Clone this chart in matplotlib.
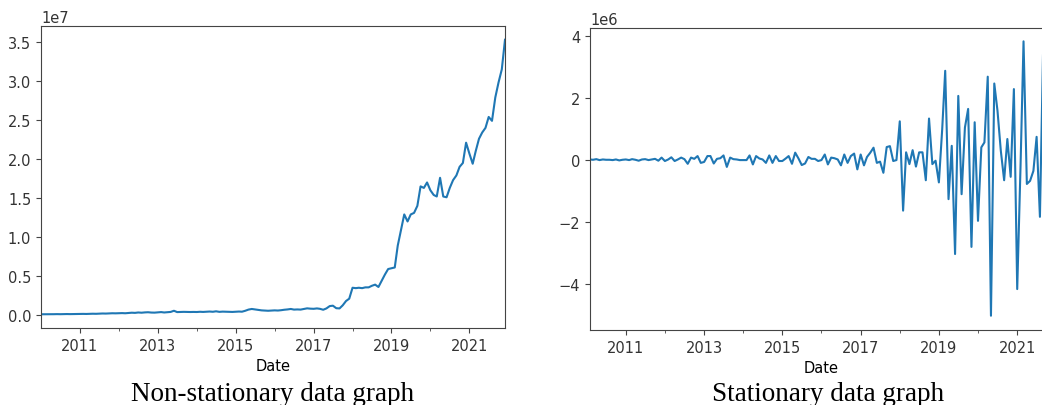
import matplotlib
matplotlib.use("Agg")
import matplotlib.pyplot as plt
import pandas as pd
import numpy as np

# monthly values, in millions, Jan 2010 .. Dec 2021
level = [
    0.10, 0.10, 0.11, 0.10, 0.11, 0.12, 0.11, 0.12, 0.13, 0.12, 0.13, 0.14,
    0.14, 0.15, 0.14, 0.16, 0.17, 0.16, 0.18, 0.20, 0.19, 0.21, 0.23, 0.22,
    0.24, 0.25, 0.23, 0.27, 0.30, 0.28, 0.33, 0.30, 0.34, 0.36, 0.32, 0.31,
    0.35, 0.38, 0.33, 0.36, 0.40, 0.55, 0.38, 0.40, 0.41, 0.40, 0.39, 0.40,
    0.39, 0.42, 0.40, 0.43, 0.45, 0.42, 0.48, 0.41, 0.44, 0.43, 0.41, 0.40,
    0.42, 0.45, 0.43, 0.55, 0.70, 0.78, 0.72, 0.65, 0.60, 0.58, 0.55, 0.57,
    0.60, 0.58, 0.62, 0.68, 0.72, 0.78, 0.70, 0.72, 0.70, 0.78, 0.86, 0.82,
    0.80, 0.85, 0.80, 0.68, 0.85, 1.15, 1.20, 0.88, 0.85, 1.25, 1.80, 2.10,
    3.50, 3.45, 3.50, 3.45, 3.55, 3.55, 3.75, 3.90, 3.60, 4.40, 5.20, 5.90,
    6.00, 6.10, 8.90, 10.9, 12.9, 12.0, 12.9, 13.1, 14.0, 16.5, 16.3, 17.0,
    16.0, 15.4, 15.2, 17.6, 15.2, 15.1, 16.3, 17.3, 17.9, 19.0, 19.5, 22.1,
    20.7, 19.4, 21.0, 22.6, 23.4, 24.0, 25.4, 24.9, 27.9, 29.8, 31.5, 35.3,
]

# month-to-month change, in millions, Feb 2010 .. Dec 2021
change = [
    0.02, 0.01, 0.03, 0.00, 0.02, 0.01, 0.01, 0.00, 0.02, -0.01, 0.01,
    0.02, 0.00, 0.03, 0.01, -0.02, 0.02, 0.03, 0.00, 0.02, 0.04, -0.02, 0.08,
    -0.03, 0.02, 0.09, -0.03, 0.02, 0.08, 0.03, -0.12, 0.08, 0.04, 0.13, -0.09,
    -0.06, 0.13, 0.13, -0.11, 0.04, 0.06, 0.15, -0.22, 0.08, 0.03, 0.02, 0.00,
    0.00, 0.00, 0.15, -0.14, 0.13, 0.05, 0.02, -0.09, 0.15, -0.09, 0.13, -0.03,
    -0.03, 0.05, 0.13, -0.12, 0.24, 0.05, -0.16, -0.11, 0.10, 0.04, 0.04, -0.03,
    0.00, 0.18, -0.14, 0.08, 0.06, 0.02, -0.17, 0.18, -0.09, 0.13, 0.21, -0.30,
    0.18, -0.17, 0.10, 0.24, 0.40, -0.09, -0.05, -0.41, 0.42, 0.45, -0.03, 0.00,
    1.25, -1.63, 0.25, -0.13, 0.32, -0.21, 0.25, 0.25, -0.65, 1.34, -0.13, -0.02,
    -0.72, 1.00, 2.88, -1.26, 0.46, -3.03, 2.07, -1.10, 1.05, 1.65, -2.80, 1.22,
    -1.96, 0.41, 0.57, 2.69, -5.02, 2.47, 1.59, 0.30, -0.65, 0.68, -0.54, 2.29,
    -4.16, -0.20, 3.83, -0.77, -0.67, -0.35, 0.75, -1.83, 3.80, 2.90, 1.70, 3.60,
]

major_years = ['2011', '2013', '2015', '2017', '2019', '2021']
minor_years = ['2012', '2014', '2016', '2018', '2020']
captions = ['Non-stationary data graph', 'Stationary data graph']

dates = pd.date_range('2010-01-01', periods=len(level), freq='MS')
dates_diff = dates[1:]

plt.rcParams['font.size'] = 10.5
plt.rcParams['axes.edgecolor'] = '#444444'
plt.rcParams['xtick.color'] = '#444444'
plt.rcParams['ytick.color'] = '#444444'
plt.rcParams['xtick.labelcolor'] = '#333333'
plt.rcParams['ytick.labelcolor'] = '#333333'

fig = plt.figure(figsize=(10.42, 4.06), dpi=100)
ax1 = fig.add_axes([41 / 1042, 77 / 406, 464 / 1042, 302 / 406])
ax2 = fig.add_axes([590 / 1042, 75 / 406, 463 / 1042, 302 / 406])

ax1.plot(dates, np.array(level) * 1e6, color='#1f77b4', lw=1.5)
ax2.plot(dates_diff, np.array(change) * 1e6, color='#1f77b4', lw=1.5)

ax1.set_xlim(dates[0], dates[-1])
ax2.set_xlim(dates_diff[0], dates_diff[-1])
ax2.set_ylim(-5.48e6, 4.26e6)

for ax in (ax1, ax2):
    ax.set_xticks(pd.to_datetime(major_years))
    ax.set_xticklabels(major_years)
    ax.set_xticks(pd.to_datetime(minor_years), minor=True)
    ax.set_xlabel('Date')

fig.text(273 / 1042, 4.5 / 406, captions[0], family='Liberation Serif',
         fontsize=19.5, ha='center', va='baseline', color='black')
fig.text(828 / 1042, 4.5 / 406, captions[1], family='Liberation Serif',
         fontsize=19.5, ha='center', va='baseline', color='black')

fig.savefig('out.png', dpi=100)
